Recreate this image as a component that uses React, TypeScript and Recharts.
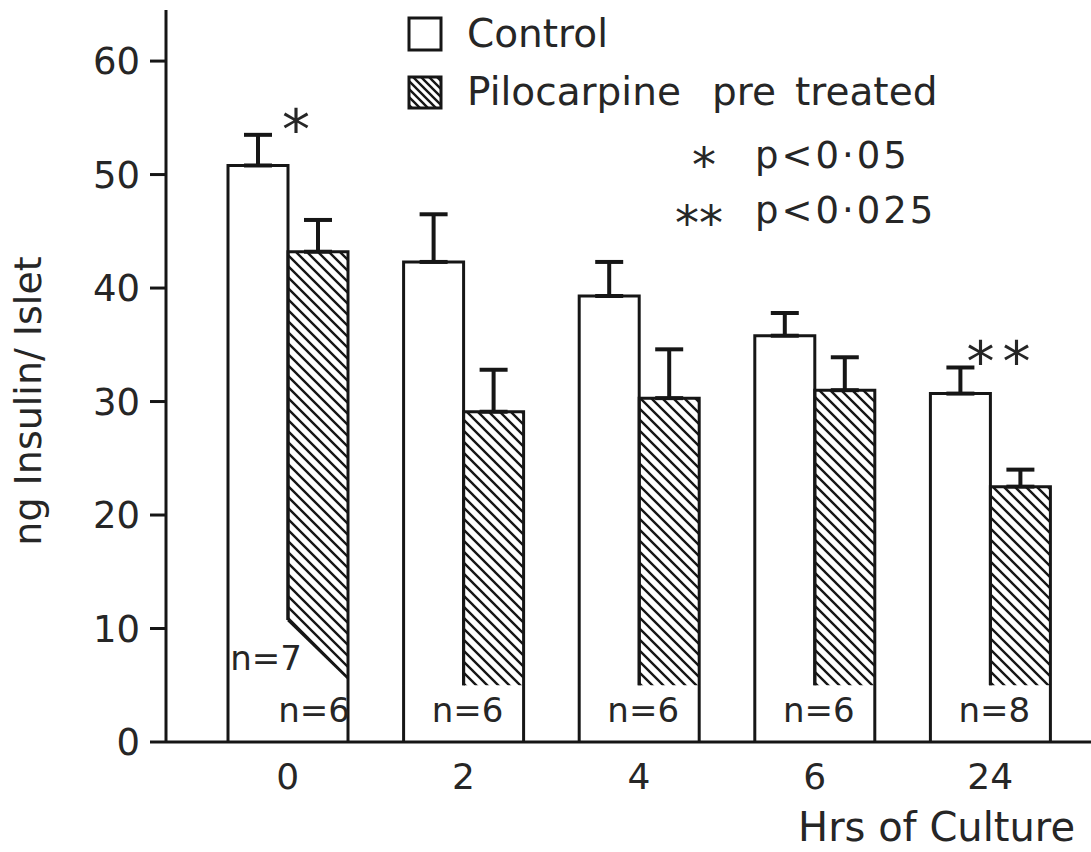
import React from "react";
import { BarChart, Bar, XAxis, YAxis, ErrorBar, Legend, Label } from "recharts";

// insulin content of islets during culture (ng / islet, mean + SEM)
const hours = ["0", "2", "4", "6", "24"];
const controlMean = [50.8, 42.3, 39.3, 35.8, 30.7];
const controlSem = [2.7, 4.2, 3.0, 2.0, 2.3];
const piloMean = [43.2, 29.1, 30.3, 31.0, 22.5];
const piloSem = [2.8, 3.7, 4.3, 2.9, 1.5];
const controlN = [7, 6, 6, 6, 8];
const piloN = [6, 6, 6, 6, 8];
const significance = ["*", "", "", "", "**"];
const yTicks = [0, 10, 20, 30, 40, 50, 60];

const data = hours.map((h, i) => ({
  hour: h,
  control: controlMean[i],
  controlErr: [0, controlSem[i]],
  pilo: piloMean[i],
  piloErr: [0, piloSem[i]],
  nControl: controlN[i],
  nPilo: piloN[i],
  sig: significance[i],
}));

const FONT = "'DejaVu Sans', sans-serif";
const INK = "#161616";
const TEXT = "#262626";

// the hatching stops short of the baseline (left / right edge, in y units)
const hatchFloor = (i: number) => (i === 0 ? [10.75, 5.6] : [5, 5]);

const HatchDef = ({ id, step = 11 }: { id: string; step?: number }) => (
  <defs>
    <pattern id={id} patternUnits="userSpaceOnUse" width={step} height={step}>
      <path
        d={`M-1,-1 L${step + 1},${step + 1} M${step - 1},-1 L${step + 1},1 M-1,${step - 1} L1,${step + 1}`}
        stroke={INK}
        strokeWidth={2.4}
      />
    </pattern>
  </defs>
);

const ControlBar = (props: any) => {
  const { x, y, width, height, payload, index } = props;
  const bottom = y + height;
  const ppu = height / payload.control;
  const cut = bottom - hatchFloor(index)[0] * ppu;
  const errTop = y - payload.controlErr[1] * ppu;
  return (
    <g>
      <rect x={x} y={y} width={width} height={height} fill="#fff" />
      <path
        d={`M${x},${bottom} L${x},${y} L${x + width},${y} L${x + width},${cut}`}
        fill="none"
        stroke={INK}
        strokeWidth={3}
      />
      {payload.sig ? (
        <text
          x={x + width + 12}
          y={errTop + 14}
          textAnchor="middle"
          fontFamily={FONT}
          fontSize={56}
          letterSpacing={8}
          fill={TEXT}
        >
          {payload.sig}
        </text>
      ) : null}
    </g>
  );
};

const PiloBar = (props: any) => {
  const { x, y, width, height, payload, index } = props;
  const bottom = y + height;
  const ppu = height / payload.pilo;
  const [lf, rf] = hatchFloor(index);
  const yl = bottom - lf * ppu;
  const yr = bottom - rf * ppu;
  const id = `hatch-${index}`;
  const nStyle = { fontFamily: FONT, fontSize: 34, fill: TEXT };
  return (
    <g>
      <HatchDef id={id} />
      <polygon
        points={`${x},${y} ${x + width},${y} ${x + width},${yr} ${x},${yl}`}
        fill={`url(#${id})`}
      />
      {lf !== rf ? (
        <line x1={x} y1={yl} x2={x + width} y2={yr} stroke={INK} strokeWidth={2.5} />
      ) : null}
      <path
        d={`M${x},${yl} L${x},${y} L${x + width},${y} L${x + width},${bottom}`}
        fill="none"
        stroke={INK}
        strokeWidth={3}
      />
      {payload.nControl === payload.nPilo ? (
        <text x={x + 4} y={bottom - 20} textAnchor="middle" {...nStyle}>
          {`n=${payload.nPilo}`}
        </text>
      ) : (
        <>
          <text x={x - width / 2 + 8} y={bottom - 72} textAnchor="middle" {...nStyle}>
            {`n=${payload.nControl}`}
          </text>
          <text x={x + width / 2 - 4} y={bottom - 20} textAnchor="middle" {...nStyle}>
            {`n=${payload.nPilo}`}
          </text>
        </>
      )}
    </g>
  );
};

const renderKey = () => {
  const t = { fontFamily: FONT, fill: TEXT };
  return (
    <svg width={560} height={260} style={{ display: "block" }}>
      <HatchDef id="hatch-key" step={8} />
      <rect x={9} y={18} width={32} height={32} fill="#fff" stroke={INK} strokeWidth={3} />
      <text x={67} y={47} fontSize={39} {...t}>Control</text>
      <rect x={9} y={77} width={32} height={31} fill="url(#hatch-key)" stroke={INK} strokeWidth={3} />
      <text y={105} fontSize={39} {...t}>
        <tspan x={67}>Pilocarpine</tspan>
        <tspan x={312}>pre</tspan>
        <tspan x={395}>treated</tspan>
      </text>
      <text x={304} y={182} fontSize={48} textAnchor="middle" {...t}>*</text>
      <text x={355} y={168} fontSize={37} letterSpacing={3} {...t}>p&lt;0·05</text>
      <text x={299} y={240} fontSize={48} textAnchor="middle" {...t}>**</text>
      <text x={355} y={223} fontSize={37} letterSpacing={3} {...t}>p&lt;0·025</text>
    </svg>
  );
};

export default function App() {
  return (
    <div style={{ position: "absolute", left: 0, top: 0, width: 1091, height: 852, background: "#fff", fontFamily: FONT }}>
      <BarChart
        width={1091}
        height={852}
        data={data}
        margin={{ top: 10, right: 0, bottom: 0, left: 0 }}
        barGap={0}
      >
        <XAxis
          dataKey="hour"
          height={110}
          padding={{ left: 34, right: 13 }}
          interval={0}
          tickLine={false}
          tickSize={6}
          tickMargin={15}
          axisLine={{ stroke: INK, strokeWidth: 3 }}
          tick={{ fontSize: 36, fill: TEXT, fontFamily: FONT }}
        >
          <Label
            content={({ viewBox }: any) => (
              <text
                x={viewBox.x + viewBox.width - 16}
                y={viewBox.y + 99}
                textAnchor="end"
                fontFamily={FONT}
                fontSize={40}
                fill={TEXT}
              >
                Hrs of Culture
              </text>
            )}
          />
        </XAxis>
        <YAxis
          domain={[0, 64.5]}
          ticks={yTicks}
          width={166}
          tickSize={16}
          tickMargin={10}
          allowDataOverflow
          axisLine={{ stroke: INK, strokeWidth: 3 }}
          tickLine={{ stroke: INK, strokeWidth: 3 }}
          tick={{ fontSize: 37, fill: TEXT, fontFamily: FONT }}
        >
          <Label
            content={({ viewBox }: any) => {
              const cx = viewBox.x + 28;
              const cy = viewBox.y + viewBox.height / 2 + 25;
              return (
                <text
                  x={cx}
                  y={cy}
                  transform={`rotate(-90, ${cx}, ${cy})`}
                  textAnchor="middle"
                  dominantBaseline="central"
                  fontFamily={FONT}
                  fontSize={38}
                  fill={TEXT}
                >
                  ng Insulin/ Islet
                </text>
              );
            }}
          />
        </YAxis>
        <Legend
          layout="vertical"
          align="center"
          verticalAlign="middle"
          wrapperStyle={{ left: 400, top: 0, width: 560, height: 260 }}
          content={renderKey}
        />
        <Bar
          dataKey="control"
          name="Control"
          barSize={60}
          isAnimationActive={false}
          shape={(p: any) => <ControlBar {...p} />}
        >
          <ErrorBar dataKey="controlErr" direction="y" width={14} strokeWidth={4} stroke={INK} />
        </Bar>
        <Bar
          dataKey="pilo"
          name="Pilocarpine pre treated"
          barSize={60}
          isAnimationActive={false}
          shape={(p: any) => <PiloBar {...p} />}
        >
          <ErrorBar dataKey="piloErr" direction="y" width={14} strokeWidth={4} stroke={INK} />
        </Bar>
      </BarChart>
    </div>
  );
}
